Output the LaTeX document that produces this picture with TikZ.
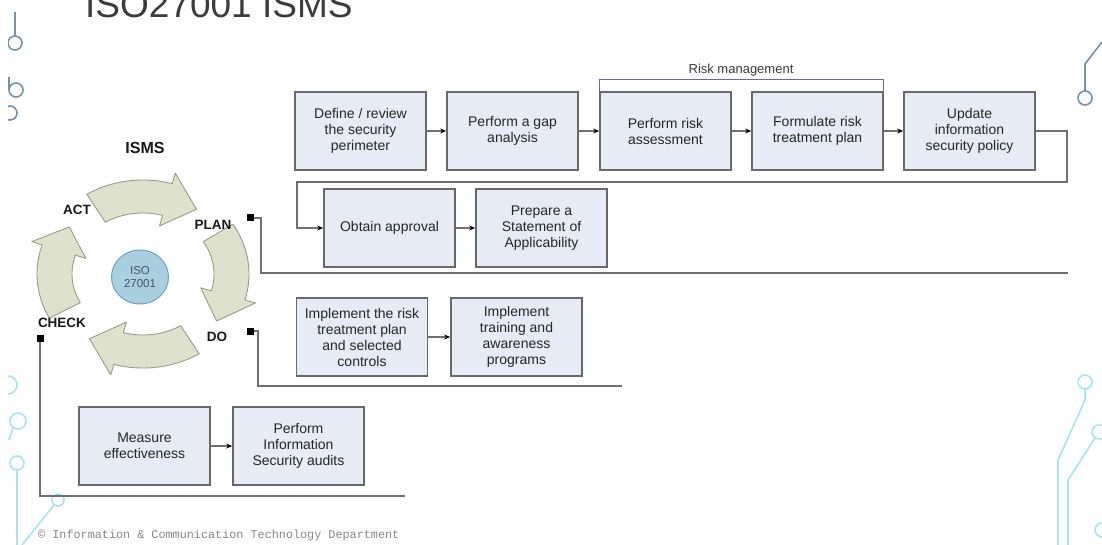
\documentclass[tikz,border=0pt]{standalone}
\usepackage{fontspec}
\setmainfont{Liberation Sans}
\newfontfamily\footmono{Liberation Mono}
\usetikzlibrary{shapes.geometric,arrows.meta,calc}
\definecolor{boxfill}{RGB}{231,235,246}
\definecolor{boxdraw}{RGB}{105,105,105}
\definecolor{boxtext}{RGB}{38,38,38}
\definecolor{conncol}{RGB}{112,112,112}
\definecolor{cycfill}{RGB}{222,226,204}
\definecolor{cycdraw}{RGB}{150,158,135}
\definecolor{isofill}{RGB}{168,208,224}
\definecolor{isodraw}{RGB}{110,160,185}
\definecolor{isotext}{RGB}{70,85,95}
\definecolor{deco}{RGB}{120,145,165}
\definecolor{decocyan}{RGB}{165,232,236}
\definecolor{riskcol}{RGB}{110,100,170}
\definecolor{titlecol}{RGB}{60,60,60}
\definecolor{footcol}{RGB}{135,135,135}
\definecolor{labcol}{RGB}{25,25,25}

\newcommand\cycarrow[3]{%
 \filldraw[cyclearrow] plot[domain=#1:#2, samples=30] ({143+106*cos(\x)},{274-94*sin(\x)})
   -- ({143+117*cos(#2)},{274-105*sin(#2)})
   -- ({143+91*cos(#3)},{274-80*sin(#3)})
   -- ({143+60*cos(#2)},{274-50*sin(#2)})
   -- plot[domain=#2:#1, samples=30] ({143+71*cos(\x)},{274-61*sin(\x)})
   -- cycle;}

\begin{document}
\begin{tikzpicture}[x=1pt,y=-1pt,
  box/.style={draw=boxdraw, line width=1.7pt, fill=boxfill, minimum width=131pt,
    minimum height=78pt, align=center, text=boxtext, inner sep=2pt,
    font=\fontsize{14}{16}\selectfont},
  conn/.style={draw=conncol, line width=1.5pt},
  arr/.style={conn, -{Stealth[length=6pt,width=5pt,color=black]}},
  marker/.style={fill=black, minimum size=7pt, inner sep=0pt},
  lab/.style={font=\bfseries\fontsize{13.5}{15}\selectfont, text=labcol, inner sep=1pt},
  cyclearrow/.style={fill=cycfill, draw=cycdraw, line width=0.9pt, line join=round},
  decoline/.style={draw=deco, line width=1.6pt},
  decocy/.style={draw=decocyan, line width=1.6pt}]

\fill[white] (0,0) rectangle (1102,545);
\useasboundingbox (0,0) rectangle (1102,545);

% decorative circuit traces
\begin{scope}
\clip (8,0) rectangle (1102,545);
\draw[decoline] (15,12) -- (15,36);
\draw[decoline] (15,43) circle[radius=7];
\draw[decoline] (9,77) -- (9,90);
\draw[decoline] (16,90) circle[radius=7];
\draw[decoline] (10,113) circle[radius=7];
\draw[decocy] (8,385) circle[radius=9];
\draw[decocy] (18,421) circle[radius=8];
\draw[decocy] (13,428) -- (9,440);
\draw[decocy] (17,463) circle[radius=7];
\draw[decocy] (17,470) -- (17,545);
\draw[decocy] (58,500) circle[radius=6];
\draw[decocy] (54,505) -- (22,545);
\draw[decoline] (1102,42) -- (1085,64) -- (1085,91);
\draw[decoline] (1085,98) circle[radius=7];
\draw[decocy] (1085,382) circle[radius=7];
\draw[decocy] (1085,389) -- (1085,400) -- (1058,460) -- (1058,545);
\draw[decocy] (1099,432) circle[radius=7];
\draw[decocy] (1095,438) -- (1068,480) -- (1068,545);
\draw[decocy] (1102,530) circle[radius=7];
\end{scope}

% title (cut off at the top, as in the slide)
\begin{scope}
\clip (0,0) rectangle (1102,545);
\node[anchor=base west, font=\fontsize{37}{40}\selectfont, text=titlecol, inner sep=0pt] (title) at (85,18) {ISO27001 ISMS};
\end{scope}

% PDCA cycle
\cycarrow{122}{74}{54}
\cycarrow{32}{-16}{-36}
\cycarrow{302}{254}{234}
\cycarrow{208}{162}{144}
\node[ellipse, draw=isodraw, line width=1pt, fill=isofill, minimum width=57pt, minimum height=54pt,
  inner sep=0pt, align=center, text=isotext, font=\fontsize{11.5}{13}\selectfont] (iso) at (140,277) {ISO\\27001};
\node[font=\bfseries\fontsize{16}{18}\selectfont, text=labcol] (isms) at (145,148) {ISMS};
\node[lab] (act) at (77,210) {ACT};
\node[lab] (plan) at (213,225) {PLAN};
\node[lab] (check) at (62,323) {CHECK};
\node[lab] (do) at (217,337) {DO};

% boxes
\node[box] (b1) at (360.5,131) {Define / review\\the security\\perimeter};
\node[box] (b2) at (512.5,131) {Perform a gap\\analysis};
\node[box] (b3) at (665.5,131) {Perform risk\\assessment};
\node[box] (b4) at (817.5,131) {Formulate risk\\treatment plan};
\node[box] (b5) at (969.5,131) {Update\\information\\security policy};
\node[box] (b6) at (389.5,228) {Obtain approval};
\node[box] (b7) at (541.5,228) {Prepare a\\Statement of\\Applicability};
\node[box] (b8) at (362,337) {Implement the risk\\treatment plan\\and selected\\controls};
\node[box] (b9) at (516.5,337) {Implement\\training and\\awareness\\programs};
\node[box] (b10) at (144.5,446) {Measure\\effectiveness};
\node[box] (b11) at (298.5,446) {Perform\\Information\\Security audits};

\draw[arr] (b1) -- (b2);
\draw[arr] (b2) -- (b3);
\draw[arr] (b3) -- (b4);
\draw[arr] (b4) -- (b5);
\draw[arr] (b6) -- (b7);
\draw[arr] (b8) -- (b9);
\draw[arr] (b10) -- (b11);

% risk management bracket
\draw[draw=riskcol, line width=1.2pt] (b3.north west) -- ++(0,-12) -| (b4.north east);
\node[font=\fontsize{13}{15}\selectfont, text=titlecol] (rm) at (741,70) {Risk management};

% loop back
\coordinate (lr) at (1067,182);
\coordinate (ll) at (297,182);
\draw[arr] (b5.east) -| (lr) -- (ll) |- (b6.west);

% phase brackets
\node[marker] (mplan) at (250,218) {};
\coordinate (pc) at (261,273);
\coordinate (pe) at (1068,273);
\draw[conn] (mplan.east) -| (pc) -- (pe);

\node[marker] (mdo) at (250,331) {};
\coordinate (dc) at (258,386);
\coordinate (de) at (622,386);
\draw[conn] (mdo.east) -| (dc) -- (de);

\node[marker] (mchk) at (40,338) {};
\coordinate (cc) at (40,496);
\coordinate (ce) at (405,496);
\draw[conn] (mchk.south) -- (cc) -- (ce);

% footer
\node[anchor=west, inner sep=0pt, text=footcol, font=\footmono\fontsize{11.8}{13}\selectfont] (foot) at (38,535)
  {© Information \& Communication Technology Department};
\end{tikzpicture}
\end{document}
